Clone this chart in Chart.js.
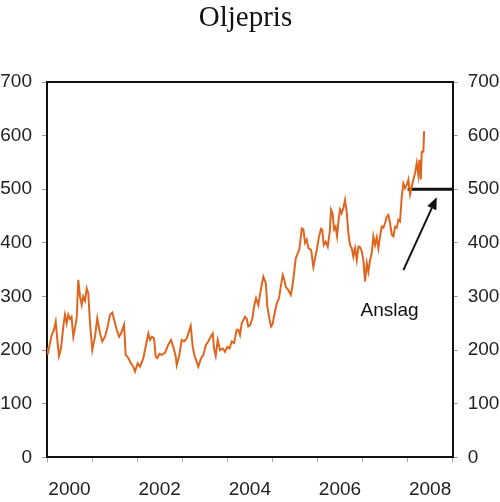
<!DOCTYPE html>
<html lang="no">
<head>
  <meta charset="UTF-8">
  <title>Oljepris</title>
  <script src="https://cdn.jsdelivr.net/npm/chart.js"></script>
  <style>
    body { margin: 0; background: #fff; }
    #wrap { width: 500px; height: 502px; }
  </style>
</head>
<body>
  <div id="wrap"><canvas id="oljeChart"></canvas></div>

  <script>
    // Oljepris (kr per fat), lest av figuren – x som desimalår
    const years = [
      2000.000, 2000.018, 2000.067, 2000.104, 2000.155, 2000.193, 2000.229, 2000.266, 2000.311, 2000.362,
      2000.399, 2000.437, 2000.473, 2000.510, 2000.544, 2000.584, 2000.621, 2000.659, 2000.694, 2000.732,
      2000.770, 2000.805, 2000.843, 2000.881, 2000.916, 2000.954, 2001.005, 2001.065, 2001.116, 2001.176,
      2001.227, 2001.287, 2001.338, 2001.398, 2001.449, 2001.509, 2001.547, 2001.598, 2001.642, 2001.709,
      2001.746, 2001.804, 2001.864, 2001.915, 2001.953, 2002.012, 2002.063, 2002.137, 2002.197, 2002.248,
      2002.285, 2002.330, 2002.374, 2002.412, 2002.447, 2002.492, 2002.545, 2002.618, 2002.691, 2002.751,
      2002.802, 2002.856, 2002.878, 2002.929, 2002.989, 2003.040, 2003.100, 2003.135, 2003.188, 2003.233,
      2003.268, 2003.322, 2003.357, 2003.417, 2003.468, 2003.528, 2003.579, 2003.632, 2003.677, 2003.705,
      2003.743, 2003.787, 2003.839, 2003.898, 2003.949, 2004.001, 2004.049, 2004.098, 2004.149, 2004.209,
      2004.245, 2004.282, 2004.320, 2004.393, 2004.431, 2004.466, 2004.504, 2004.555, 2004.600, 2004.637,
      2004.688, 2004.742, 2004.799, 2004.853, 2004.888, 2004.926, 2004.970, 2005.003, 2005.043, 2005.097,
      2005.148, 2005.185, 2005.230, 2005.265, 2005.296, 2005.354, 2005.407, 2005.443, 2005.480, 2005.518,
      2005.563, 2005.598, 2005.651, 2005.687, 2005.725, 2005.762, 2005.798, 2005.858, 2005.909, 2005.946,
      2005.984, 2006.035, 2006.080, 2006.108, 2006.139, 2006.184, 2006.228, 2006.273, 2006.301, 2006.335,
      2006.368, 2006.401, 2006.435, 2006.468, 2006.501, 2006.534, 2006.574, 2006.612, 2006.650, 2006.685,
      2006.723, 2006.761, 2006.796, 2006.834, 2006.872, 2006.907, 2006.945, 2006.983, 2007.018, 2007.056,
      2007.094, 2007.129, 2007.167, 2007.205, 2007.240, 2007.278, 2007.315, 2007.351, 2007.389, 2007.426,
      2007.462, 2007.500, 2007.537, 2007.573, 2007.610, 2007.648, 2007.684, 2007.721, 2007.759, 2007.795,
      2007.832, 2007.870, 2007.906, 2007.943, 2007.981, 2008.017, 2008.054, 2008.092, 2008.127, 2008.165,
      2008.203, 2008.238, 2008.261, 2008.292, 2008.314, 2008.349, 2008.365
    ];
    const prices = [
      205, 192, 213, 228, 238, 253, 219, 189, 203, 244,
      266, 250, 266, 258, 262, 225, 241, 260, 331, 300,
      284, 300, 292, 315, 306, 250, 200, 225, 259, 231,
      216, 225, 241, 266, 270, 250, 238, 225, 231, 247,
      191, 185, 175, 169, 160, 175, 169, 185, 210, 231,
      219, 225, 222, 188, 185, 193, 191, 195, 210, 219,
      206, 188, 172, 188, 219, 216, 222, 231, 245, 206,
      191, 178, 169, 185, 191, 210, 216, 225, 231, 203,
      189, 219, 200, 203, 197, 206, 203, 216, 213, 238,
      238, 228, 250, 262, 258, 244, 246, 259, 284, 297,
      284, 312, 337, 325, 281, 262, 244, 248, 266, 287,
      297, 318, 340, 331, 318, 312, 303, 318, 343, 371,
      381, 387, 427, 425, 400, 406, 390, 387, 355, 371,
      387, 412, 426, 424, 396, 402, 393, 421, 462, 455,
      425, 430, 412, 443, 462, 455, 465, 480, 456, 418,
      396, 390, 374, 390, 368, 393, 392, 384, 368, 328,
      362, 346, 368, 381, 412, 396, 410, 390, 412, 430,
      428, 437, 449, 452, 437, 415, 412, 430, 428, 443,
      440, 486, 511, 502, 508, 518, 490, 505, 518, 530,
      549, 527, 555, 518, 570, 570, 608
    ];

    // Anslag
    const anslagYears = [2008.0, 2009.0];
    const anslagValues = [500, 500];

    const yTicks = [0, 100, 200, 300, 400, 500, 600, 700];
    const yearLabels = [2000, 2002, 2004, 2006, 2008];

    const tickFont = { family: "'Liberation Sans', Arial, sans-serif", size: 19 };

    // ramme, tittel, pil og tekst
    const extras = {
      id: 'extras',
      afterDraw(chart) {
        const { ctx, chartArea: a, scales } = chart;
        const x = scales.x, y = scales.y;
        ctx.save();

        ctx.strokeStyle = '#111';
        ctx.lineWidth = 2;
        ctx.beginPath();
        ctx.moveTo(a.left - 1, a.top);
        ctx.lineTo(a.right + 1, a.top);
        ctx.stroke();

        ctx.fillStyle = '#111';
        ctx.font = "29px 'Liberation Serif', 'Times New Roman', serif";
        ctx.textAlign = 'center';
        ctx.textBaseline = 'alphabetic';
        ctx.fillText('Oljepris', 245.5, 26);

        // pil fra teksten opp mot anslaget
        const x0 = x.getPixelForValue(2007.906), y0 = y.getPixelForValue(349);
        const x1 = x.getPixelForValue(2008.647), y1 = y.getPixelForValue(485);
        const ang = Math.atan2(y1 - y0, x1 - x0);
        const len = 12, wid = 5;
        const bx = x1 - len * Math.cos(ang), by = y1 - len * Math.sin(ang);
        ctx.lineWidth = 2;
        ctx.beginPath();
        ctx.moveTo(x0, y0);
        ctx.lineTo(bx, by);
        ctx.stroke();
        ctx.beginPath();
        ctx.moveTo(x1, y1);
        ctx.lineTo(bx + wid * Math.sin(ang), by - wid * Math.cos(ang));
        ctx.lineTo(bx - wid * Math.sin(ang), by + wid * Math.cos(ang));
        ctx.closePath();
        ctx.fill();

        ctx.font = "19px 'Liberation Sans', Arial, sans-serif";
        ctx.fillText('Anslag', x.getPixelForValue(2007.599), y.getPixelForValue(264));
        ctx.restore();
      }
    };

    const yAxis = (pos) => ({
      position: pos,
      min: 0,
      max: 700,
      afterBuildTicks: s => { s.ticks = yTicks.map(v => ({ value: v })); },
      afterFit: s => { s.width = pos === 'left' ? 47 : 47.3; },
      ticks: { font: tickFont, color: '#222', padding: 10 },
      grid: { drawOnChartArea: false, tickLength: 5, color: '#999' },
      border: { display: true, color: '#111', width: 2 }
    });

    new Chart(document.getElementById('oljeChart'), {
      type: 'line',
      data: {
        datasets: [{
          label: 'Oljepris',
          data: years.map((yr, i) => ({ x: yr, y: prices[i] })),
          borderColor: '#e0661f',
          borderWidth: 2,
          pointRadius: 0,
          tension: 0,
          fill: false
        }, {
          label: 'Anslag',
          data: anslagYears.map((yr, i) => ({ x: yr, y: anslagValues[i] })),
          borderColor: '#111',
          borderWidth: 3,
          pointRadius: 0,
          fill: false
        }]
      },
      options: {
        responsive: true,
        maintainAspectRatio: false,
        animation: false,
        layout: { padding: { top: 82, left: 0, right: 0, bottom: 0 } },
        plugins: {
          legend: { display: false },
          title: { display: false },
          tooltip: { enabled: false }
        },
        scales: {
          x: {
            type: 'linear',
            position: 'bottom',
            min: 2000,
            max: 2009,
            afterBuildTicks: s => {
              const t = [];
              for (let v = 2000; v <= 2009; v++) t.push({ value: v });
              s.ticks = t;
            },
            afterFit: s => { s.height = 44.7; },
            ticks: {
              autoSkip: false,
              maxRotation: 0,
              font: tickFont,
              color: '#222',
              padding: 16,
              labelOffset: 22.5,
              callback: v => yearLabels.includes(v) ? String(v) : ''
            },
            grid: { drawOnChartArea: false, tickLength: 5, color: '#aaa' },
            border: { display: true, color: '#111', width: 2 }
          },
          y: yAxis('left'),
          y2: yAxis('right')
        }
      },
      plugins: [extras]
    });
  </script>
</body>
</html>
